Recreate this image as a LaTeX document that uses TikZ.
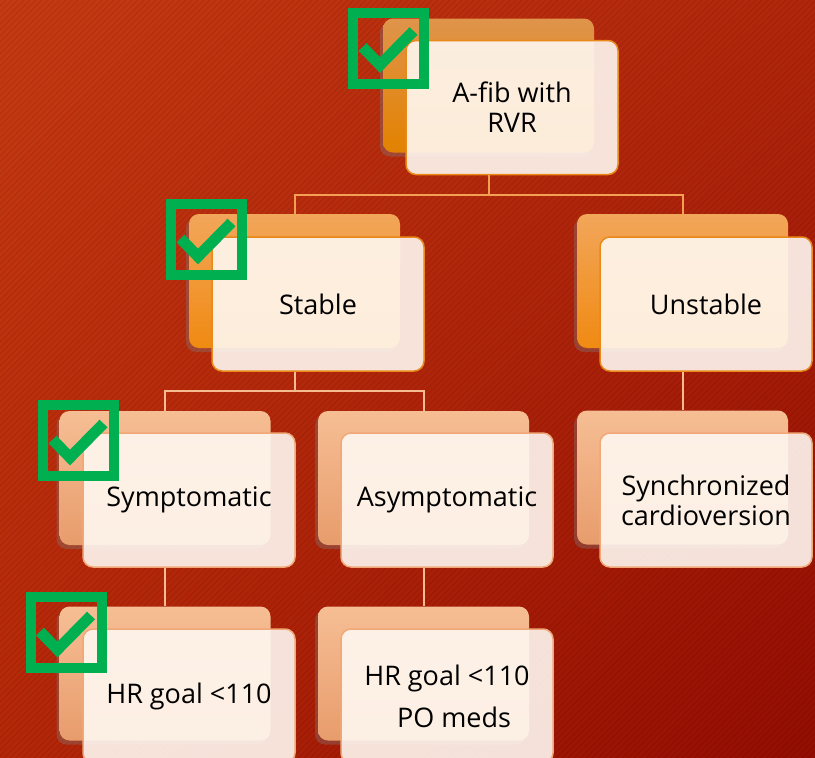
\documentclass[tikz,border=0pt]{standalone}
\usepackage{fontspec}
\setmainfont{Open Sans}
\usetikzlibrary{shadows,shadings}
\definecolor{bgUL}{HTML}{C63A12}
\definecolor{bgUR}{HTML}{B2260B}
\definecolor{bgLL}{HTML}{B52708}
\definecolor{bgLR}{HTML}{940D02}
\definecolor{bkAt}{HTML}{DF944B}
\definecolor{bkAb}{HTML}{E38200}
\definecolor{bkBt}{HTML}{F2A65A}
\definecolor{bkBb}{HTML}{F08A12}
\definecolor{bkCt}{HTML}{F6BE94}
\definecolor{bkCb}{HTML}{E89C6C}
\definecolor{frontfill}{HTML}{FFF8F1}
\definecolor{edgeA}{HTML}{E8891A}
\definecolor{edgeC}{HTML}{F0A878}
\definecolor{lineA}{HTML}{F3A054}
\definecolor{lineC}{HTML}{F5BC92}
\definecolor{chk}{HTML}{00B050}
\begin{document}
\begin{tikzpicture}[x=1pt,y=-1pt,
  backbox/.style={rounded corners=10pt, minimum width=211pt, minimum height=134pt, inner sep=0pt,
    drop shadow={shadow xshift=-3pt, shadow yshift=-4pt, opacity=0.35}},
  lvA/.style={backbox, top color=bkAt, bottom color=bkAb},
  lvB/.style={backbox, top color=bkBt, bottom color=bkBb},
  lvC/.style={backbox, top color=bkCt, bottom color=bkCb},
  frontbox/.style={rounded corners=10pt, minimum width=212pt, minimum height=134pt, inner sep=0pt,
    fill=frontfill, fill opacity=0.9, text opacity=1, line width=1.5pt, align=center,
    font=\fontsize{27}{30}\selectfont, text=black},
  frA/.style={frontbox, draw=edgeA},
  frC/.style={frontbox, draw=edgeC},
  connA/.style={draw=lineA, line width=2pt},
  connC/.style={draw=lineC, line width=2pt},
  checkbox/.style={draw=chk, line width=10pt, minimum size=71pt, inner sep=0pt},
  checkmark/.style={draw=chk, line width=11pt, line cap=butt, line join=miter}
]
\useasboundingbox (0,0) rectangle (815,758);
% background
\shade[upper left=bgUL, upper right=bgUR, lower left=bgLL, lower right=bgLR] (0,0) rectangle (815,758);
\begin{scope}
  \clip (0,0) rectangle (815,758);
  \foreach \i in {0,6,...,1590} \draw[black, opacity=0.07, line width=1.6pt] (\i,0) -- (\i-780,780);
\end{scope}

% junction coordinates
\coordinate (j1) at (488.5,195);
\coordinate (j2) at (294.5,391);

% back boxes
\path
  (488.5,85.5) node[lvA] (bA) {}
  (294.5,281) node[lvB] (bS) {}
  (682.5,281) node[lvB] (bU) {}
  (165,478) node[lvC] (bSy) {}
  (423.5,478) node[lvC] (bAs) {}
  (682.5,477.5) node[lvC] (bSc) {}
  (165,673.5) node[lvC] (bH1) {}
  (423.5,673.5) node[lvC] (bH2) {};

% front boxes
\node[frA] (fA) at (512,107.5) {A-fib with\\RVR};
\node[frA] (fS) at (318,304) {Stable};
\node[frA] (fU) at (706,304) {Unstable};
\node[frC] (fSy) at (189,500) {Symptomatic};
\node[frC] (fAs) at (447,500) {Asymptomatic};
\node[frC] (fSc) at (706,500) {Synchronized\\cardioversion};
\node[frC] (fH1) at (189,696) {HR goal <110};
\node[frC] (fH2) at (447,696) {HR goal <110\\[12pt]\ \ PO meds};

% connectors
\draw[connA] (fA.south -| bA.south) -- (j1);
\draw[connA] (bS.north) |- (j1) -| (bU.north);
\draw[connC] (fS.south -| bS.south) -- (j2);
\draw[connC] (bSy.north) |- (j2) -| (bAs.north);
\draw[connC] (fU.south -| bU.south) -- (bSc.north);
\draw[connC] (fSy.south -| bSy.south) -- (bH1.north);
\draw[connC] (fAs.south -| bAs.south) -- (bH2.north);

% check boxes
\node[checkbox] (c1) at (388.5,48) {};
\node[checkbox] (c2) at (206.5,239.5) {};
\node[checkbox] (c3) at (78.5,440.5) {};
\node[checkbox] (c4) at (66,632.5) {};
\foreach \c in {c1,c2,c3,c4}
  \draw[checkmark] ([shift={(-26,-1)}]\c.center) -- ([shift={(-8.5,17)}]\c.center) -- ([shift={(25,-17)}]\c.center);
\end{tikzpicture}
\end{document}
